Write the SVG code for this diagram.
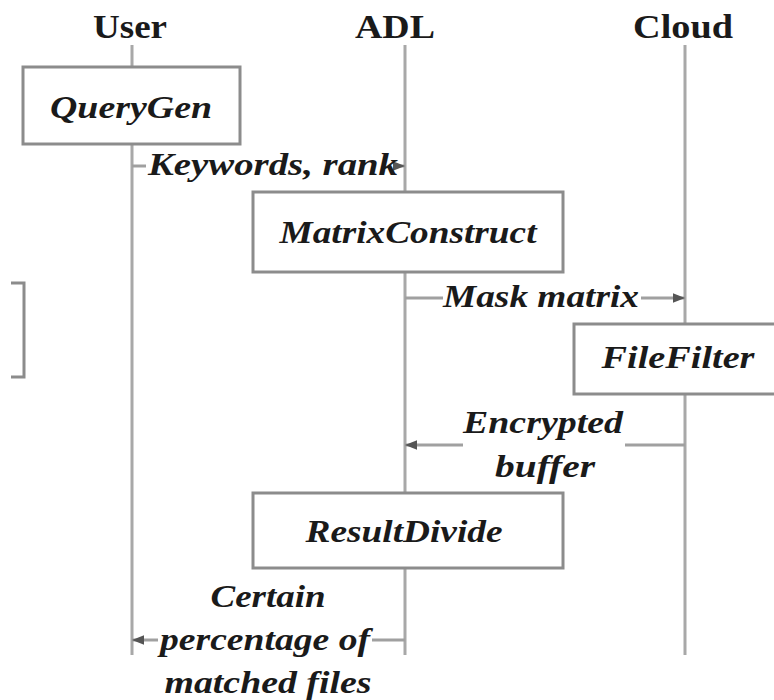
<svg xmlns="http://www.w3.org/2000/svg" width="774" height="700" viewBox="0 0 774 700">
<style>
.t{font-family:"Liberation Serif","Times New Roman",serif;fill:#1a1a1a;text-anchor:middle}
.h{font-weight:bold;font-size:33px}
.l{font-weight:bold;font-style:italic;font-size:32px}
.box{fill:#fff;stroke:#8c8c8c;stroke-width:3}
.life{stroke:#a8a8a8;stroke-width:3;fill:none}
.msg{stroke:#a0a0a0;stroke-width:3;fill:none}
</style>
<defs>
<marker id="ah" viewBox="0 0 10 10" refX="10" refY="5" markerWidth="4" markerHeight="4" orient="auto">
<path d="M0,1 L10,5 L0,9 Z" fill="#555"/>
</marker>
</defs>
<g id="actors">
<text class="t h" x="130" y="38" textLength="74" lengthAdjust="spacingAndGlyphs">User</text>
<text class="t h" x="395" y="38" textLength="80" lengthAdjust="spacingAndGlyphs">ADL</text>
<text class="t h" x="683" y="38" textLength="100" lengthAdjust="spacingAndGlyphs">Cloud</text>
</g>
<g id="lifelines">
<line class="life" x1="132" y1="45" x2="132" y2="655"/>
<line class="life" x1="405" y1="45" x2="405" y2="655"/>
<line class="life" x1="685" y1="45" x2="685" y2="655"/>
</g>
<g id="connectors">
<line class="msg" x1="132" y1="166" x2="146" y2="166"/>
<line class="msg" x1="398" y1="166" x2="405" y2="166" marker-end="url(#ah)"/>
<line class="msg" x1="405" y1="298" x2="443" y2="298"/>
<line class="msg" x1="641" y1="298" x2="685" y2="298" marker-end="url(#ah)"/>
<line class="msg" x1="685" y1="445" x2="625" y2="445"/>
<line class="msg" x1="463" y1="445" x2="405" y2="445" marker-end="url(#ah)"/>
<line class="msg" x1="405" y1="640" x2="372" y2="640"/>
<line class="msg" x1="158" y1="640" x2="132" y2="640" marker-end="url(#ah)"/>
<text class="t l" x="273" y="175" textLength="250" lengthAdjust="spacingAndGlyphs">Keywords, rank</text>
<text class="t l" x="541" y="307" textLength="196" lengthAdjust="spacingAndGlyphs">Mask matrix</text>
<text class="t l" x="543" y="433" textLength="160" lengthAdjust="spacingAndGlyphs">Encrypted</text>
<text class="t l" x="545" y="477" textLength="100" lengthAdjust="spacingAndGlyphs">buffer</text>
<text class="t l" x="268" y="607" textLength="115" lengthAdjust="spacingAndGlyphs">Certain</text>
<text class="t l" x="265" y="650" textLength="210" lengthAdjust="spacingAndGlyphs">percentage of</text>
<text class="t l" x="268" y="693" textLength="207" lengthAdjust="spacingAndGlyphs">matched files</text>
</g>
<g id="QueryGen">
<rect class="box" x="23" y="67" width="217" height="77"/>
<text class="t l" x="131" y="118" textLength="162" lengthAdjust="spacingAndGlyphs">QueryGen</text>
</g>
<g id="MatrixConstruct">
<rect class="box" x="253" y="192" width="310" height="80"/>
<text class="t l" x="408" y="243" textLength="257" lengthAdjust="spacingAndGlyphs">MatrixConstruct</text>
</g>
<g id="FileFilter">
<rect class="box" x="574" y="324" width="222" height="70"/>
<text class="t l" x="678" y="368" textLength="153" lengthAdjust="spacingAndGlyphs">FileFilter</text>
</g>
<g id="ResultDivide">
<rect class="box" x="253" y="493" width="310" height="75"/>
<text class="t l" x="404" y="542" textLength="197" lengthAdjust="spacingAndGlyphs">ResultDivide</text>
</g>
<g id="bracket">
<path d="M11,283 H24 V377 H11" fill="none" stroke="#8c8c8c" stroke-width="3"/>
</g>
</svg>
